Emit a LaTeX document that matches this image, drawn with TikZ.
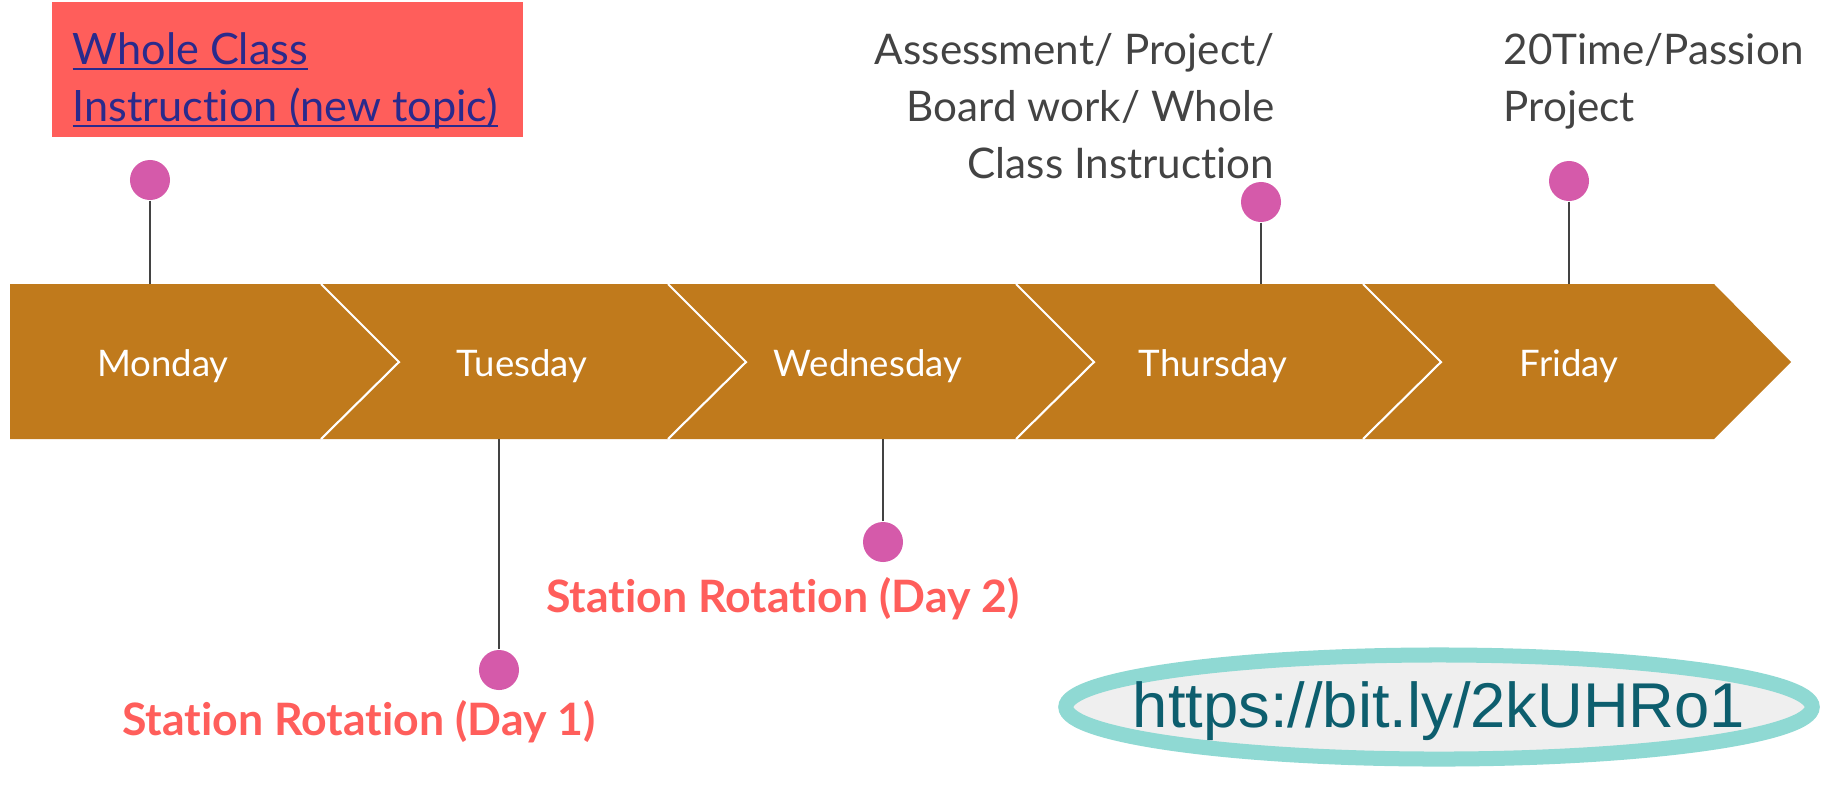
\documentclass[tikz,border=0pt]{standalone}
\usepackage{fontspec}
\setmainfont{Lato}[Ligatures=NoCommon]
\newfontfamily\urlfont{Liberation Sans}
\usetikzlibrary{positioning,shapes.geometric}

\definecolor{bandcol}{HTML}{C07A1C}
\definecolor{pincol}{HTML}{D55AAA}
\definecolor{boxcol}{HTML}{FF5E5B}
\definecolor{linkcol}{HTML}{2A2A8C}
\definecolor{notecol}{HTML}{434343}
\definecolor{ringcol}{HTML}{8FD9D3}
\definecolor{ringfill}{HTML}{EFEFEF}
\definecolor{urlcol}{HTML}{0D5E6E}

\tikzset{
  daylabel/.style={text=white, font=\fontsize{10.4}{12}\selectfont},
  daydot/.style={circle, fill=pincol, minimum size=0.4cm, inner sep=0pt},
  stem/.style={draw=notecol, line width=0.6pt},
  notetext/.style={text=notecol, inner sep=0pt, font=\fontsize{12}{14}\selectfont},
  linktext/.style={text=linkcol, inner sep=0pt, font=\fontsize{12.3}{14}\selectfont},
  stationtext/.style={text=boxcol, inner sep=0pt, font=\fontsize{12.7}{14}\selectfont\bfseries},
}
\newcommand{\ulined}[1]{\underline{\smash{#1}}}

\begin{document}
\begin{tikzpicture}[x=0.01cm, y=-0.01cm]
     \useasboundingbox (0,0) rectangle (1824,784);

     % the week band
     \fill[bandcol] (10,284) -- (1714,284) -- (1791,362) -- (1714,439) -- (10,439) -- cycle;
     \foreach \sx in {321,668,1016,1363}
       \draw[white, line width=0.6pt] (\sx,284) -- (\sx+78,362) -- (\sx,439);

     \node[daylabel] (mon) at (163,366) {Monday};
     \node[daylabel] (tue) at (522,366) {Tuesday};
     \node[daylabel] (wed) at (868,366) {Wednesday};
     \node[daylabel] (thu) at (1213,366) {Thursday};
     \node[daylabel] (fri) at (1569,366) {Friday};

     % pins
     \node[daydot] (monpin) at (150,180) {};
     \node[daydot] (tuepin) at (499,670) {};
     \node[daydot] (wedpin) at (883,542) {};
     \node[daydot] (thupin) at (1261,202) {};
     \node[daydot] (fripin) at (1569,181) {};
     \coordinate (monfoot) at (150,284);
     \coordinate (tuefoot) at (499,439);
     \coordinate (wedfoot) at (883,439);
     \coordinate (thufoot) at (1261,284);
     \coordinate (frifoot) at (1569,284);
     \draw[stem] (monpin) -- (monfoot);
     \draw[stem] (tuepin) -- (tuefoot);
     \draw[stem] (wedpin) -- (wedfoot);
     \draw[stem] (thupin) -- (thufoot);
     \draw[stem] (fripin) -- (frifoot);

     % Monday note
     \fill[boxcol] (52,2) rectangle (523,137);
     \node[linktext, anchor=base west] (mon1) at (72,64) {\ulined{Whole Class}};
     \node[linktext, anchor=base west] (mon2) at (72,121) {\ulined{Instruction (new topic)}};

     % Thursday and Friday notes
     \node[notetext, anchor=base east] (thu1) at (1275,64) {Assessment/ Project/};
     \node[notetext, anchor=base east] (thu2) at (1275,121) {Board work/ Whole};
     \node[notetext, anchor=base east] (thu3) at (1275,178) {Class Instruction};
     \node[notetext, anchor=base west] (fri1) at (1503,64) {20Time/Passion};
     \node[notetext, anchor=base west] (fri2) at (1503,121) {Project};

     % Tuesday and Wednesday notes
     \node[stationtext, anchor=base] (wednote) at (783,612) {Station Rotation (Day 2)};
     \node[stationtext, anchor=base] (tuenote) at (359,735) {Station Rotation (Day 1)};

     % link
     \node[ellipse, draw=ringcol, line width=0.15cm, fill=ringfill,
           minimum width=7.46cm, minimum height=1.04cm] (link) at (1439,707) {};
     \node[text=urlcol, font=\urlfont\fontsize{18}{20}\selectfont] (url) at (1439,711) {https://bit.ly/2kUHRo1};
   \end{tikzpicture}
\end{document}
